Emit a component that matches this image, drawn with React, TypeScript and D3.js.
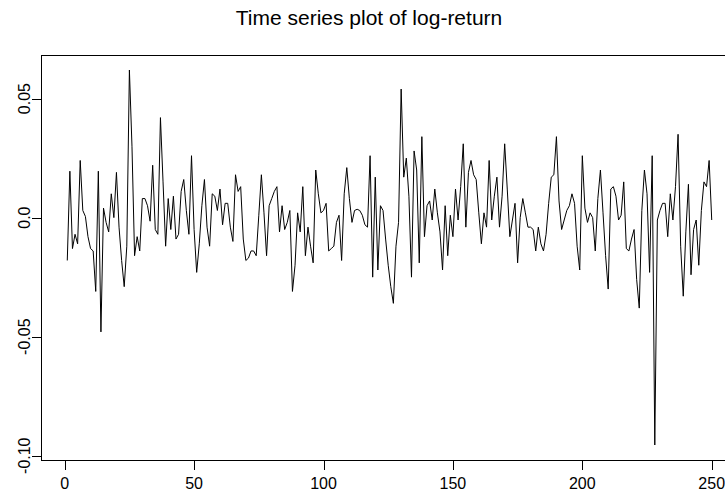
import React, { useEffect, useRef } from "react";
import * as d3 from "d3";

// log-return values, index 1..250
const logReturn: number[] = [
  -0.018, 0.0195, -0.013, -0.007, -0.011, 0.024, 0.003, 0.0005, -0.008, -0.013,
  -0.014, -0.031, 0.0195, -0.048, 0.004, -0.002, -0.006, 0.010, 0.000, 0.019,
  -0.004, -0.018, -0.029, -0.012, 0.062, 0.030, -0.016, -0.008, -0.014, 0.008,
  0.008, 0.005, -0.0015, 0.022, -0.005, -0.007, 0.042, 0.015, -0.012, 0.008,
  -0.005, 0.009, -0.009, -0.007, 0.011, 0.016, 0.003, -0.007, 0.026, -0.005,
  -0.023, -0.011, 0.005, 0.016, -0.004, -0.012, 0.010, 0.009, 0.003, 0.012,
  -0.003, 0.006, 0.006, -0.004, -0.010, 0.018, 0.011, 0.013, -0.009, -0.018,
  -0.017, -0.014, -0.014, -0.016, 0.001, 0.018, 0.002, -0.016, 0.005, 0.008,
  0.011, 0.013, -0.006, 0.005, -0.005, -0.002, 0.003, -0.031, -0.020, 0.002,
  -0.006, 0.013, -0.016, -0.004, -0.012, -0.019, 0.020, 0.010, 0.002, 0.003,
  0.006, -0.014, -0.013, -0.012, -0.002, 0.001, -0.018, 0.010, 0.021, 0.008,
  -0.002, 0.003, 0.0035, 0.003, 0.001, -0.003, -0.004, 0.026, -0.025, 0.017,
  -0.022, 0.005, 0.003, -0.009, -0.020, -0.029, -0.036, -0.012, -0.002, 0.054,
  0.017, 0.025, 0.009, -0.025, 0.028, 0.020, -0.019, 0.034, -0.008, 0.005,
  0.007, -0.001, 0.012, 0.002, -0.006, -0.022, 0.005, -0.016, 0.001, -0.008,
  0.012, -0.001, 0.013, 0.031, -0.004, 0.019, 0.024, 0.018, 0.016, 0.002,
  -0.011, 0.002, -0.004, 0.024, -0.001, 0.009, 0.017, -0.004, 0.009, 0.031,
  0.012, -0.008, -0.001, 0.006, -0.019, 0.000, 0.008, 0.002, -0.004, -0.004,
  -0.005, -0.014, -0.004, -0.011, -0.014, -0.007, 0.006, 0.017, 0.018, 0.034,
  0.007, -0.005, -0.001, 0.003, 0.005, 0.010, 0.006, -0.012, -0.022, 0.026,
  0.004, -0.002, 0.002, 0.000, -0.014, 0.008, 0.020, 0.002, -0.016, -0.030,
  0.012, 0.013, 0.009, -0.001, 0.001, 0.015, -0.013, -0.014, -0.009, -0.005,
  -0.026, -0.038, 0.003, 0.020, 0.010, -0.023, 0.026, -0.0955, -0.001, 0.003,
  0.006, 0.006, -0.008, 0.010, -0.001, 0.013, 0.035, -0.012, -0.033, -0.006,
  0.014, -0.024, -0.005, -0.001, -0.020, 0.003, 0.015, 0.013, 0.024, -0.001,
];

const xTicks: number[] = [0, 50, 100, 150, 200, 250];
const yTicks: number[] = [-0.1, -0.05, 0.0, 0.05];
const yTickLabels: string[] = ["-0.10", "-0.05", "0.0", "0.05"];
const chartTitle = "Time series plot of log-return";

const FONT = "'Liberation Sans', Arial, Helvetica, sans-serif";

export default function App() {
  const ref = useRef<SVGSVGElement>(null);

  useEffect(() => {
    const svg = d3.select(ref.current);
    svg.selectAll("*").remove();

    const n = logReturn.length;
    const xLo = 1 - 0.04 * (n - 1);
    const xHi = n + 0.04 * (n - 1);
    const yMin = d3.min(logReturn) as number;
    const yMax = d3.max(logReturn) as number;
    const pad = 0.04 * (yMax - yMin);

    const left = 41.5, right = 737.5, top = 55, bottom = 460;
    const x = d3.scaleLinear().domain([xLo, xHi]).range([left, right]);
    const y = d3.scaleLinear().domain([yMin - pad, yMax + pad]).range([bottom, top]);

    svg.append("rect").attr("width", 725).attr("height", 493).attr("fill", "#fff");

    // data line
    const line = d3
      .line<number>()
      .x((_, i) => x(i + 1))
      .y((d) => y(d));
    svg
      .append("path")
      .datum(logReturn)
      .attr("d", line)
      .attr("fill", "none")
      .attr("stroke", "#000")
      .attr("stroke-width", 1)
      .attr("stroke-linejoin", "round");

    // box
    svg
      .append("rect")
      .attr("x", left)
      .attr("y", top + 0.5)
      .attr("width", right - left)
      .attr("height", bottom - top)
      .attr("fill", "none")
      .attr("stroke", "#000")
      .attr("stroke-width", 1)
      .attr("shape-rendering", "crispEdges");

    const tickLen = 9.5;

    // x ticks
    const gx = svg.append("g");
    xTicks.forEach((t) => {
      const px = Math.round(x(t)) + 0.5;
      gx.append("line")
        .attr("x1", px).attr("x2", px)
        .attr("y1", bottom + 0.5).attr("y2", bottom + tickLen)
        .attr("stroke", "#000").attr("shape-rendering", "crispEdges");
      gx.append("text")
        .attr("x", x(t))
        .attr("y", 489)
        .attr("text-anchor", "middle")
        .attr("font-family", FONT)
        .attr("font-size", 16)
        .attr("fill", "#000")
        .text(String(t));
    });

    // y ticks
    const gy = svg.append("g");
    yTicks.forEach((t, i) => {
      const py = Math.round(y(t)) + 0.5;
      gy.append("line")
        .attr("x1", left - tickLen).attr("x2", left)
        .attr("y1", py).attr("y2", py)
        .attr("stroke", "#000").attr("shape-rendering", "crispEdges");
      gy.append("text")
        .attr("transform", `translate(30,${y(t)}) rotate(-90)`)
        .attr("text-anchor", "middle")
        .attr("font-family", FONT)
        .attr("font-size", 16)
        .attr("fill", "#000")
        .text(yTickLabels[i]);
    });

    // title
    svg
      .append("text")
      .attr("x", 369)
      .attr("y", 25)
      .attr("text-anchor", "middle")
      .attr("font-family", FONT)
      .attr("font-size", 21)
      .attr("fill", "#000")
      .text(chartTitle);
  }, []);

  return (
    <svg
      ref={ref}
      width={725}
      height={493}
      style={{ position: "absolute", left: 0, top: 0, display: "block" }}
    />
  );
}
